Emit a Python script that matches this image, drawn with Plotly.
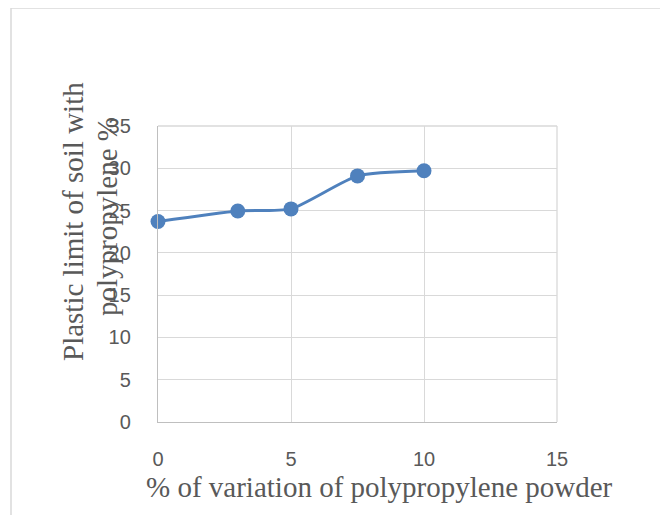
import plotly.graph_objects as go

x_vals = [0, 3, 5, 7.5, 10]
y_vals = [23.7, 24.95, 25.2, 29.1, 29.7]
x_ticks = [0, 5, 10, 15]
y_ticks = [0, 5, 10, 15, 20, 25, 30, 35]
x_title = "% of variation of polypropylene powder"
y_title_1 = "Plastic limit of soil with"
y_title_2 = "polypropylene %"

OFF = 8  # browser default body margin
W, H = 668 - OFF, 515 - OFF
L, R, T, B = 158 - OFF, 557 - OFF, 126 - OFF, 422 - OFF
pw, ph = R - L, B - T

def px(xp):
    return (xp - OFF - L) / pw

def py(yp):
    return (B - (yp - OFF)) / ph

fig = go.Figure()
fig.add_trace(go.Scatter(
    x=x_vals, y=y_vals, mode="lines+markers",
    line=dict(color="#4f81bd", width=3, shape="spline", smoothing=0.6),
    marker=dict(color="#4f81bd", size=15),
    showlegend=False, cliponaxis=False,
))

tickfont = dict(family="Liberation Sans, Arial, sans-serif", size=20, color="#595959")
serif = dict(family="Liberation Serif, Times New Roman, serif", size=29, color="#595959")
fig.update_layout(
    width=W, height=H,
    margin=dict(l=L, r=W - R, t=T, b=H - B),
    paper_bgcolor="white", plot_bgcolor="white",
    xaxis=dict(range=[0, 15], tickvals=x_ticks, ticktext=[str(v) for v in x_ticks],
               showgrid=True, gridcolor="#d9d9d9", gridwidth=1.3,
               showline=True, linecolor="#bfbfbf", linewidth=1.3,
               zeroline=False, ticks="", tickfont=tickfont, ticklabelstandoff=19,
               fixedrange=True),
    yaxis=dict(range=[0, 35], tickvals=y_ticks, ticktext=[str(v) for v in y_ticks],
               showgrid=True, gridcolor="#d9d9d9", gridwidth=1.3,
               showline=True, linecolor="#bfbfbf", linewidth=1.3,
               zeroline=False, ticks="", tickfont=tickfont, ticklabelstandoff=22,
               fixedrange=True),
    annotations=[
        dict(text=y_title_1, x=px(73), y=py(222), xref="paper", yref="paper",
             textangle=-90, showarrow=False, xanchor="center", yanchor="middle", font=serif),
        dict(text=y_title_2, x=px(107), y=py(217), xref="paper", yref="paper",
             textangle=-90, showarrow=False, xanchor="center", yanchor="middle", font=serif),
        dict(text=x_title, x=px(379), y=py(487), xref="paper", yref="paper",
             showarrow=False, xanchor="center", yanchor="middle", font=serif),
    ],
    shapes=[
        dict(type="rect", xref="paper", yref="paper",
             x0=px(11), x1=px(664), y0=py(530), y1=py(8),
             line=dict(color="#d9d9d9", width=1.5), fillcolor="rgba(0,0,0,0)", layer="below"),
        dict(type="line", xref="paper", yref="paper", x0=1, x1=1, y0=0, y1=1,
             line=dict(color="#d9d9d9", width=1.3), layer="below"),
        dict(type="line", xref="paper", yref="paper", x0=0, x1=1, y0=1, y1=1,
             line=dict(color="#d9d9d9", width=1.3), layer="below"),
    ],
)
fig.write_html("out.html")
